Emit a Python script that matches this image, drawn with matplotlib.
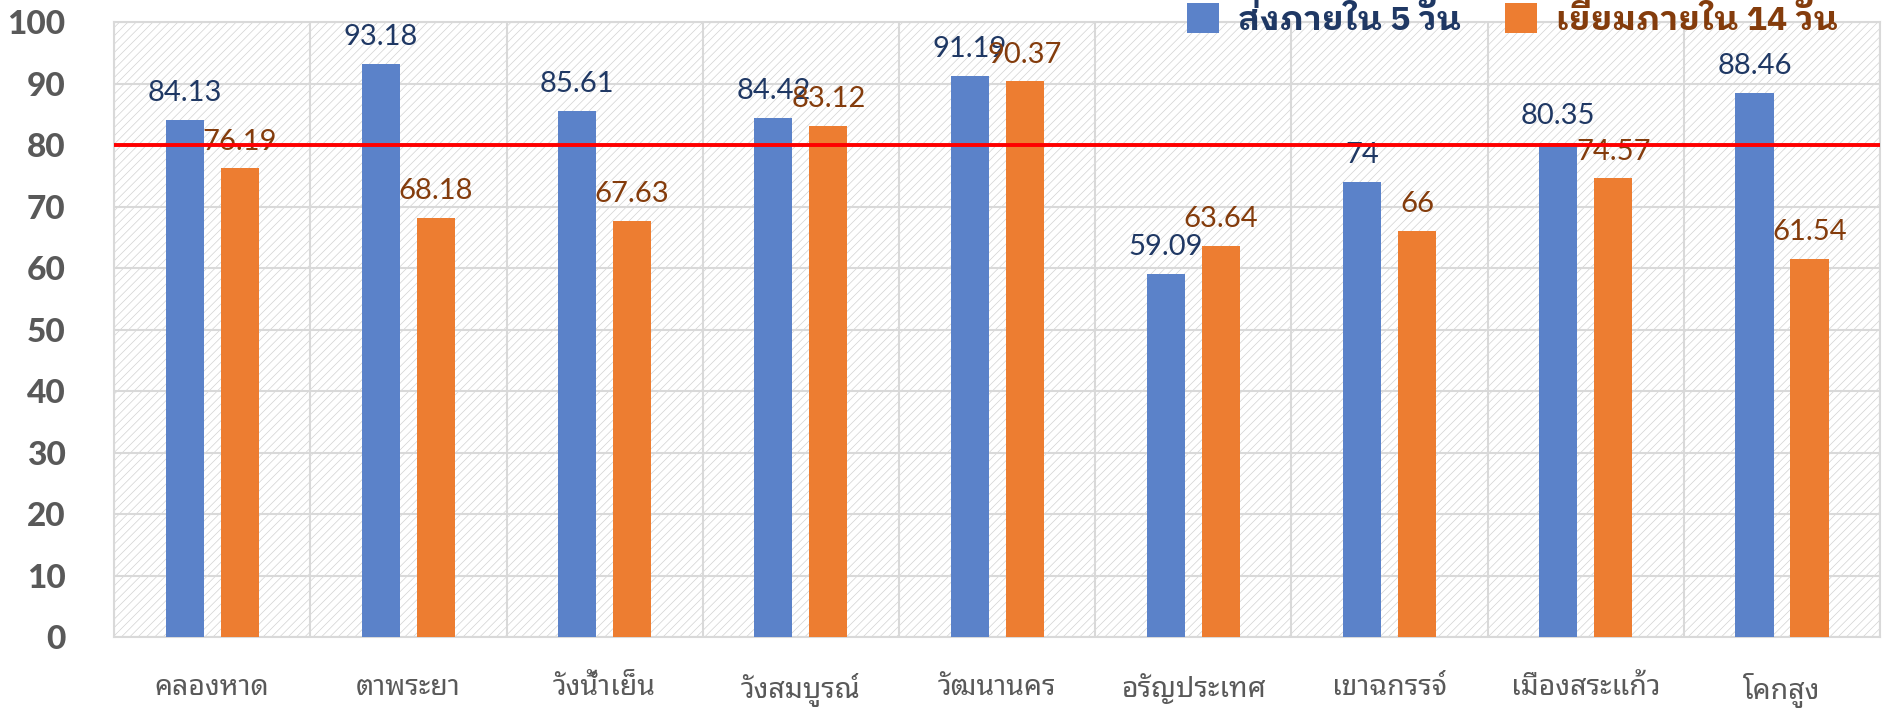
import numpy as np
import matplotlib
matplotlib.use("Agg")
import matplotlib.pyplot as plt
from matplotlib.patches import Rectangle

# ข้อมูล
districts = ['คลองหาด', 'ตาพระยา', 'วังน้ำเย็น', 'วังสมบูรณ์', 'วัฒนานคร',
             'อรัญประเทศ', 'เขาฉกรรจ์', 'เมืองสระแก้ว', 'โคกสูง']
send_5d = [84.13, 93.18, 85.61, 84.42, 91.19, 59.09, 74, 80.35, 88.46]
visit_14d = [76.19, 68.18, 67.63, 83.12, 90.37, 63.64, 66, 74.57, 61.54]
label_send = 'ส่งภายใน 5 วัน'
label_visit = 'เยี่ยมภายใน 14 วัน'
target = 80
yticks = list(range(0, 101, 10))

thai = ['Noto Sans Thai Looped', 'Noto Sans Thai', 'DejaVu Sans']
thai_bold = ['IBM Plex Sans Thai Looped', 'Noto Sans Thai Looped', 'DejaVu Sans']
num_font = ['Lato', 'DejaVu Sans']

plt.rcParams['hatch.linewidth'] = 0.5

fig = plt.figure(figsize=(18.82, 7.11), dpi=100)
ax = fig.add_axes([0.0606, 0.104, 0.9384, 0.865])

x = np.arange(len(districts))
w = 0.194
off = 0.14

# พื้นหลังลายเส้นทแยง
ax.add_patch(Rectangle((0, 0), 1, 1, transform=ax.transAxes, facecolor='white',
                       edgecolor='#d2d2d2', hatch='////', linewidth=0, zorder=0))

b1 = ax.bar(x - off, send_5d, w, color='#5B82C9', label=label_send, zorder=3)
b2 = ax.bar(x + off, visit_14d, w, color='#ED7D31', label=label_visit, zorder=3)

for bars, vals, col in [(b1, send_5d, '#1F3864'), (b2, visit_14d, '#843C0C')]:
    for r, v in zip(bars, vals):
        ax.annotate('{:g}'.format(v), (r.get_x() + r.get_width() / 2, v),
                    xytext=(0, 13.5), textcoords='offset points',
                    ha='center', va='baseline', fontsize=21, color=col,
                    family=num_font, zorder=4)

ax.axhline(target, color='#FF0000', lw=2.8, zorder=5)

ax.set_xlim(-0.5, len(districts) - 0.5)
ax.set_ylim(0, 100)
ax.set_yticks(yticks)
ax.set_yticklabels([str(t) for t in yticks], fontsize=24, fontweight='black',
                   color='#595959', family=num_font)
ax.set_xticks(x)
ax.set_xticklabels(districts, fontsize=20.5, color='#595959', family=thai)
ax.set_xticks(np.arange(-0.5, len(districts), 1), minor=True)
ax.tick_params(axis='y', length=0, pad=35)
ax.tick_params(axis='x', which='both', length=0, pad=26)
ax.grid(True, which='major', axis='y', color='#d9d9d9', lw=1.5, zorder=1)
ax.grid(True, which='minor', axis='x', color='#d9d9d9', lw=1.5, zorder=1)
ax.set_axisbelow(True)
for s in ax.spines.values():
    s.set_color('#d9d9d9')
    s.set_linewidth(1.5)

leg = ax.legend(loc='upper right', bbox_to_anchor=(1838 / 1882, 1 - 3 / 711),
                bbox_transform=fig.transFigure, ncol=2, frameon=False,
                borderpad=0, borderaxespad=0, handlelength=0.95, handleheight=1.0,
                handletextpad=0.55, columnspacing=1.3,
                prop={'family': thai_bold, 'size': 24.5, 'weight': 'bold'})
for t, c in zip(leg.get_texts(), ['#1F3864', '#843C0C']):
    t.set_color(c)

fig.savefig('out.png', dpi=100)
